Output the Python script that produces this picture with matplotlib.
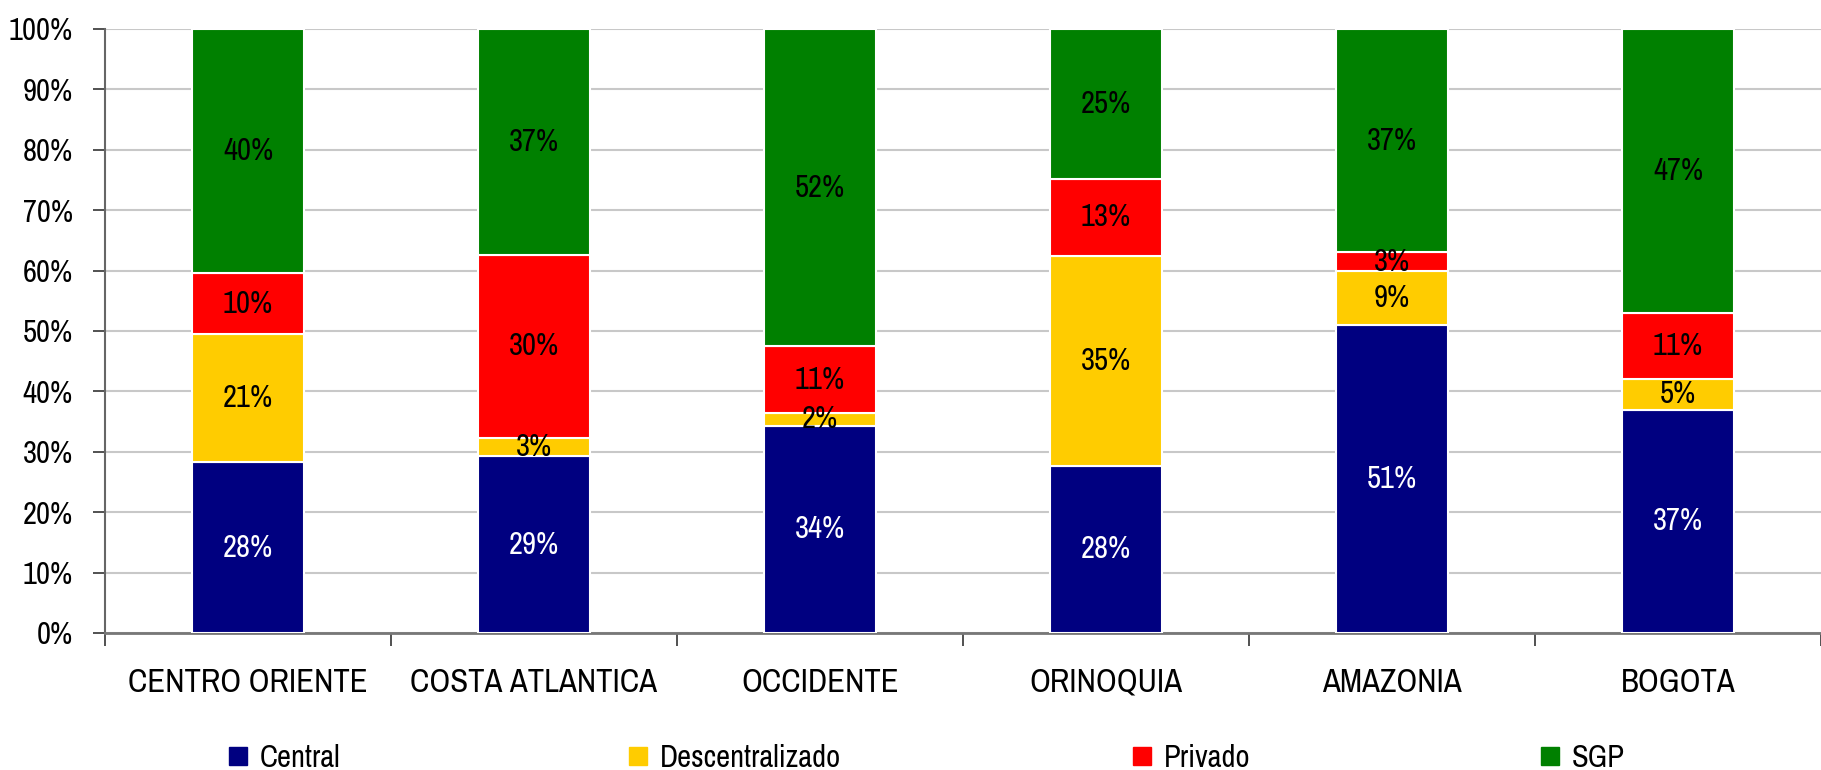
import matplotlib
matplotlib.use("Agg")
import matplotlib.pyplot as plt
import numpy as np
from matplotlib.lines import Line2D

categories = ["CENTRO ORIENTE", "COSTA ATLANTICA", "OCCIDENTE", "ORINOQUIA", "AMAZONIA", "BOGOTA"]
series_names = ["Central", "Descentralizado", "Privado", "SGP"]
central = [28, 29, 34, 28, 51, 37]
descentralizado = [21, 3, 2, 35, 9, 5]
privado = [10, 30, 11, 13, 3, 11]
sgp = [40, 37, 52, 25, 37, 47]
yticklabels = ["0%", "10%", "20%", "30%", "40%", "50%", "60%", "70%", "80%", "90%", "100%"]

colors = ["#000080", "#FFCC00", "#FF0000", "#008000"]
text_colors = ["white", "black", "black", "black"]

FONT = ["Arial Narrow", "Liberation Sans Narrow", "Archivo Narrow", "Roboto Condensed",
        "PT Sans Narrow", "Liberation Sans", "DejaVu Sans"]
plt.rcParams["font.family"] = FONT

W, H = 1821, 770
fig = plt.figure(figsize=(W / 100, H / 100), dpi=100)
left_px, right_px, top_px, bottom_px = 105, 1821, 29, 633
ax = fig.add_axes([left_px / W, 1 - bottom_px / H, (right_px - left_px) / W, (bottom_px - top_px) / H])

data = np.array([central, descentralizado, privado, sgp], dtype=float)
totals = data.sum(axis=0)
shares = data / totals * 100
x = np.arange(len(categories))
bottom = np.zeros(len(categories))
for i in range(4):
    ax.bar(x, shares[i], 0.39, bottom=bottom, color=colors[i], edgecolor="white",
           linewidth=1.5, zorder=3)
    for j in range(len(categories)):
        ax.text(x[j], bottom[j] + shares[i][j] / 2, f"{int(data[i][j])}%",
                ha="center", va="center", fontsize=22, color=text_colors[i], zorder=4)
    bottom += shares[i]

cat_px = 288
ax.set_xlim(-0.5, -0.5 + (right_px - left_px) / cat_px)
ax.set_ylim(0, 100)
ax.set_yticks(np.arange(0, 101, 10))
ax.set_yticklabels(yticklabels, fontsize=22)
ax.yaxis.grid(True, color="#c8c8c8", linewidth=1.5, zorder=0)
ax.set_axisbelow(True)

ax.set_xticks(x)
ax.set_xticklabels(categories, fontsize=23.5)
ax.tick_params(axis="x", which="major", length=0, pad=25)
ax.set_xticks(np.arange(-0.5, 5.6, 1.0), minor=True)
ax.tick_params(axis="x", which="minor", length=9, width=1.2, direction="out", color="#333333")
ax.tick_params(axis="y", length=9, width=1.2, direction="out", color="#333333", pad=14)

for s in ["top", "right"]:
    ax.spines[s].set_visible(False)
ax.spines["left"].set_color("#666666")
ax.spines["left"].set_linewidth(1.5)
ax.spines["bottom"].set_color("#777777")
ax.spines["bottom"].set_linewidth(2)

marker_left_px = [229, 629, 1133, 1541]
for name, c, mx in zip(series_names, colors, marker_left_px):
    h = Line2D([0], [0], marker="s", linestyle="none", markersize=12.5,
               markerfacecolor=c, markeredgecolor=c)
    fig.legend([h], [name], loc="center left", bbox_to_anchor=(mx / W, 1 - 758 / H),
               frameon=False, fontsize=22, borderpad=0, borderaxespad=0,
               handletextpad=0.4, handlelength=0.6)

fig.savefig("out.png", dpi=100)
